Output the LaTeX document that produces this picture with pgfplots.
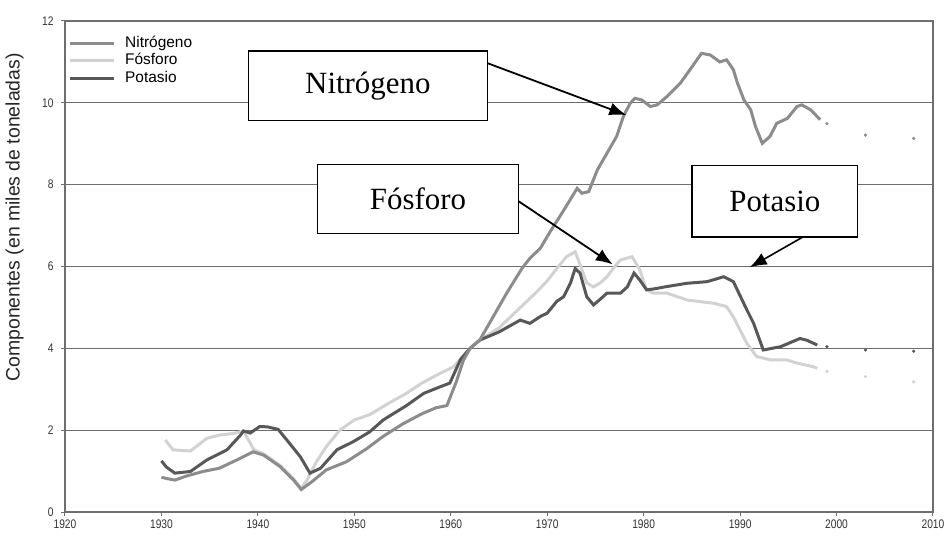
\documentclass[border=0pt]{standalone}
\usepackage{fontspec}
\setmainfont{Liberation Sans}
\newfontfamily\boxfont{Liberation Serif}
\newfontfamily\narrowsans[FakeStretch=0.82]{Liberation Sans}
\usepackage{pgfplots}
\pgfplotsset{compat=1.18}
\usetikzlibrary{arrows.meta}
\definecolor{nitro}{HTML}{8C8C8C}
\definecolor{fosfo}{HTML}{D2D2D2}
\definecolor{potas}{HTML}{585858}
\definecolor{gridc}{HTML}{6E6E6E}
\begin{document}
\begin{tikzpicture}
\begin{axis}[
  name=ax,
  scale only axis, width=868bp, height=491bp,
  xmin=1920, xmax=2010, ymin=0, ymax=12,
  xtick={1920,1930,...,2010}, ytick={0,2,...,12},
  xtick pos=bottom, ytick pos=left, tick align=outside,
  major tick length=4bp,
  tick style={gridc, line width=1bp},
  axis line style={gridc, line width=1.3bp},
  ymajorgrids, grid style={gridc, line width=1.3bp},
  /pgf/number format/assume math mode=true,
  /pgf/number format/1000 sep={},
  xticklabel style={font=\fontsize{12.5}{13}\narrowsans, text=black!80},
  yticklabel style={font=\fontsize{12.5}{13}\narrowsans, text=black!80, xshift=-4bp},
  ylabel={Componentes (en miles de toneladas)},
  ylabel style={at={(axis description cs:-0.058,0.6)}, anchor=center, rotate=0, font=\fontsize{19.5}{21}\selectfont, text=black!85},
  legend style={at={(axis description cs:0.0,0.977)}, anchor=north west, draw=none, fill=none,
    font=\fontsize{15.5}{17}\selectfont, row sep=0bp,
    nodes={inner ysep=0.5bp, inner xsep=4bp, text height=12.5bp, text depth=4bp},
    /tikz/every odd column/.append style={column sep=6bp}},
  legend cell align=left,
  legend image code/.code={\draw[#1] (0bp,0bp) -- (44bp,0bp);},
]
% Fosforo
\addplot[fosfo, line width=3bp, forget plot] coordinates {
(1930.4,1.76) (1931.2,1.52) (1933.0,1.49) (1934.7,1.80) (1936.0,1.88) (1937.5,1.92) (1938.5,1.98)
(1939.6,1.52) (1940.6,1.42) (1942.3,1.14) (1943.7,0.81) (1944.5,0.58) (1945.1,0.78) (1946.0,1.20)
(1947.1,1.60) (1948.5,2.00) (1950.0,2.25) (1951.6,2.38) (1953.5,2.65) (1955.4,2.90) (1957.0,3.15)
(1958.9,3.39) (1960.3,3.55) (1961.5,3.88) (1962.0,4.00) (1963.0,4.20) (1965.0,4.50) (1967.0,4.95)
(1969.0,5.40) (1970.0,5.65) (1971.0,5.95) (1972.0,6.24) (1972.9,6.36) (1973.4,6.05) (1974.1,5.60)
(1974.8,5.50) (1975.5,5.60) (1976.2,5.75) (1977.0,6.00) (1977.6,6.16) (1978.8,6.24) (1979.6,5.92)
(1980.3,5.43) (1981.0,5.35) (1982.4,5.35) (1984.5,5.18) (1987.3,5.10) (1988.6,5.02) (1989.3,4.77)
(1990.7,4.12) (1991.7,3.80) (1993.1,3.72) (1994.8,3.72) (1995.9,3.64) (1997.6,3.55) (1998.0,3.51)
};
\addplot[fosfo, only marks, mark=*, mark size=1.4bp, forget plot] coordinates {(1999,3.44) (2003,3.31) (2008,3.18)};
% Potasio
\addplot[potas, line width=3bp, forget plot] coordinates {
(1930.0,1.25) (1930.5,1.10) (1931.4,0.95) (1933.0,0.99) (1934.7,1.27) (1936.8,1.52) (1938.2,1.88)
(1938.5,1.98) (1939.2,1.93) (1940.2,2.09) (1941.0,2.08) (1942.1,2.02) (1943.0,1.76) (1944.4,1.35)
(1945.4,0.95) (1946.5,1.07) (1948.2,1.52) (1949.9,1.72) (1951.6,1.96) (1953.0,2.25) (1955.4,2.60)
(1957.2,2.90) (1958.9,3.06) (1959.9,3.15) (1961.0,3.72) (1962.0,4.00) (1963.0,4.20) (1965.0,4.40)
(1967.2,4.69) (1968.2,4.61) (1969.3,4.78) (1970.0,4.86) (1971.0,5.15) (1971.7,5.26) (1972.4,5.59)
(1972.9,5.95) (1973.4,5.84) (1974.1,5.26) (1974.8,5.06) (1975.5,5.20) (1976.2,5.35) (1977.6,5.35)
(1978.3,5.50) (1979.0,5.84) (1979.6,5.67) (1980.3,5.43) (1981.0,5.45) (1982.4,5.51) (1984.5,5.59)
(1986.6,5.63) (1988.3,5.75) (1989.3,5.63) (1990.7,4.94) (1991.4,4.61) (1992.4,3.96) (1994.2,4.04)
(1996.2,4.24) (1996.9,4.20) (1998.0,4.08)
};
\addplot[potas, only marks, mark=*, mark size=1.4bp, forget plot] coordinates {(1999,4.04) (2003,3.96) (2008,3.93)};
% Nitrogeno
\addplot[nitro, line width=3bp, forget plot] coordinates {
(1930.0,0.85) (1930.5,0.82) (1931.4,0.78) (1932.6,0.88) (1934.3,0.99) (1936.0,1.07) (1937.8,1.27)
(1939.5,1.47) (1940.6,1.39) (1942.3,1.11) (1943.7,0.78) (1944.5,0.55) (1945.6,0.74) (1947.1,1.03)
(1949.2,1.23) (1951.3,1.55) (1953.0,1.85) (1955.0,2.15) (1957.0,2.40) (1958.5,2.55) (1959.6,2.60)
(1960.6,3.20) (1961.3,3.70) (1962.0,4.00) (1963.0,4.20) (1964.1,4.65) (1965.8,5.35) (1967.4,5.96)
(1968.2,6.20) (1969.3,6.45) (1970.3,6.85) (1971.3,7.22) (1972.3,7.60) (1973.1,7.91) (1973.6,7.79)
(1974.3,7.83) (1975.2,8.36) (1976.2,8.77) (1977.2,9.18) (1977.9,9.67) (1978.6,9.99) (1979.1,10.11)
(1979.8,10.07) (1980.7,9.91) (1981.4,9.95) (1982.4,10.15) (1983.8,10.48) (1984.8,10.81) (1986.0,11.21)
(1986.9,11.17) (1987.9,11.00) (1988.6,11.05) (1989.3,10.81) (1989.7,10.50) (1990.4,10.07) (1991.1,9.83)
(1991.6,9.42) (1992.3,9.01) (1993.1,9.18) (1993.8,9.50) (1994.9,9.62) (1995.9,9.91) (1996.4,9.95)
(1997.3,9.83) (1998.3,9.59)
};
\addplot[nitro, only marks, mark=*, mark size=1.4bp, forget plot] coordinates {(1999,9.49) (2003,9.21) (2008,9.13)};
\addlegendimage{nitro, line width=3bp}
\addlegendentry{Nitrógeno}
\addlegendimage{fosfo, line width=3bp}
\addlegendentry{Fósforo}
\addlegendimage{potas, line width=3bp}
\addlegendentry{Potasio}
% annotation boxes
\draw[black, line width=1.3bp, fill=white] (axis cs:1939,9.57) rectangle (axis cs:1963.8,11.27);
\node[font=\fontsize{31}{34}\boxfont] at (axis cs:1951.4,10.42) {Nitrógeno};
\draw[black, line width=1.3bp, fill=white] (axis cs:1946.2,6.8) rectangle (axis cs:1967,8.5);
\node[font=\fontsize{31}{34}\boxfont] at (axis cs:1956.6,7.65) {Fósforo};
\draw[black, line width=1.3bp, fill=white] (axis cs:1985,6.72) rectangle (axis cs:2002.2,8.46);
\node[font=\fontsize{31}{34}\boxfont] at (axis cs:1993.6,7.59) {Potasio};
\draw[black, line width=1.8bp, -{Latex[length=17bp,width=13bp]}] (axis cs:1963.8,10.97) -- (axis cs:1978.2,9.70);
\draw[black, line width=1.8bp, -{Latex[length=17bp,width=13bp]}] (axis cs:1967,7.6) -- (axis cs:1976.8,6.05);
\draw[black, line width=1.6bp, -{Latex[length=17bp,width=13bp]}] (axis cs:1996.5,6.72) -- (axis cs:1991,5.98);
\end{axis}
\path (-65bp,-25bp) rectangle (884bp,512bp);
\end{tikzpicture}
\end{document}
